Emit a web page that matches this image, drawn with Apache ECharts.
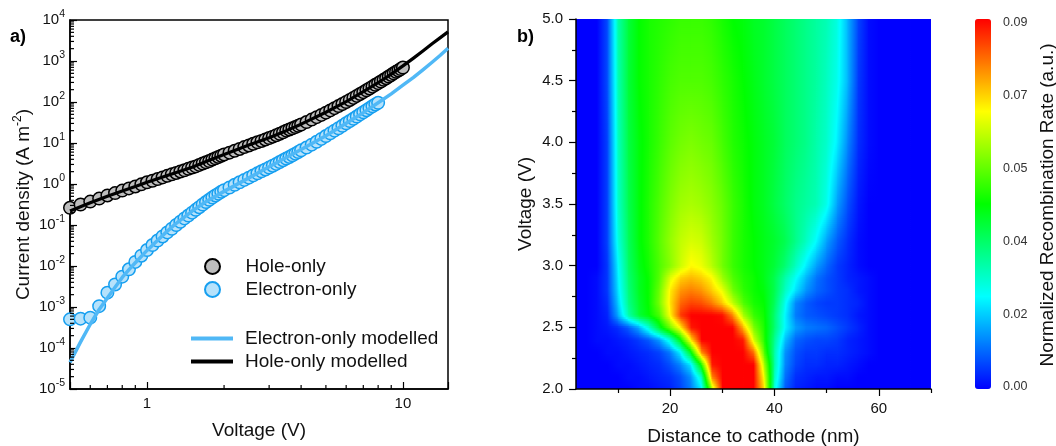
<!DOCTYPE html>
<html><head><meta charset="utf-8">
<script src="https://cdn.jsdelivr.net/npm/echarts@6.0.0/dist/echarts.min.js"></script>
<style>html,body{margin:0;padding:0;background:#fff}#c{width:1056px;height:446px}</style>
</head><body><div id="c"></div>
<script>
// ---------- Panel a) : J-V curves ----------
const holeV = [0.5,0.55,0.6,0.65,0.7,0.75,0.8,0.85,0.9,0.95,1,1.05,1.1,1.15,1.2,1.25,1.3,1.35,1.4,1.45,1.5,1.55,1.6,1.65,1.7,1.75,1.8,1.85,1.9,1.95,2,
  2.1,2.2,2.3,2.4,2.5,2.6,2.7,2.8,2.9,3,3.1,3.2,3.3,3.4,3.5,3.6,3.7,3.8,3.9,4,
  4.2,4.4,4.6,4.8,5,5.2,5.4,5.6,5.8,6,6.2,6.4,6.6,6.8,7,7.2,7.4,7.6,7.8,8,8.2,8.4,8.6,8.8,9,9.2,9.4,9.6,9.8,10];
const holeJ = [0.263,0.316,0.372,0.44,0.525,0.60,0.69,0.78,0.87,0.98,1.10,1.20,1.32,1.45,1.58,1.72,1.86,2.02,2.16,2.34,2.51,2.69,2.92,3.16,3.39,3.63,3.94,4.22,4.57,4.90,5.25,
  5.82,6.46,7.16,7.94,8.71,9.55,10.4,11.2,12.2,13.2,14.3,15.5,16.8,18.2,20.0,21.4,22.9,24.5,26.3,28.2,
  32.4,37.2,42.7,48.4,55.0,62.4,70.8,79.4,89.1,100,112,126,141,157,174,193,214,237,263,288,316,347,380,417,457,501,543,589,638,692];
const elecV = [0.5,0.55,0.6,0.65,0.7,0.75,0.8,0.85,0.9,0.95,1,1.05,1.1,1.15,1.2,1.25,1.3,1.35,1.4,1.45,1.5,1.55,1.6,1.65,1.7,1.75,1.8,1.85,1.9,1.95,2,
  2.1,2.2,2.3,2.4,2.5,2.6,2.7,2.8,2.9,3,3.1,3.2,3.3,3.4,3.5,3.6,3.7,3.8,3.9,4,
  4.2,4.4,4.6,4.8,5,5.2,5.4,5.6,5.8,6,6.2,6.4,6.6,6.8,7,7.2,7.4,7.6,7.8,8];
const elecJ = [5.0e-4,5.2e-4,5.5e-4,1.05e-3,2.24e-3,3.55e-3,5.5e-3,8.3e-3,0.0126,0.0178,0.0245,0.0324,0.0417,0.0525,0.066,0.081,0.100,0.120,0.145,0.170,0.200,0.234,0.272,0.316,0.363,0.412,0.468,0.525,0.582,0.646,0.708,
  0.822,0.955,1.10,1.26,1.43,1.62,1.82,2.04,2.26,2.51,2.79,3.09,3.43,3.80,4.17,4.57,5.01,5.50,6.03,6.61,
  7.76,9.12,10.7,12.6,14.8,17.2,20.0,22.9,26.3,30.2,34.3,38.9,44.2,50.1,56.2,63.1,70.8,78.5,87.1,95.5];
const elecModelV = [0.5,0.55,0.6,0.65,0.7,0.75,0.8,0.85,0.9,1,1.1,1.2,1.3,1.5,1.7,2,2.5,3,3.5,4,5,6,7,8,9,10,11,12,13,14,15];
const elecModelJ = [4.47e-5,1.41e-4,3.8e-4,8.7e-4,1.66e-3,3.02e-3,5.25e-3,8.13e-3,0.012,0.024,0.0427,0.0708,0.11,0.219,0.372,0.661,1.41,2.63,4.42,6.92,15.1,30.2,55.0,95.5,158,257,398,617,933,1380,2040];
const holeModelV = [0.5,0.6,0.7,0.8,0.9,1,1.2,1.5,1.75,2,2.5,3,3.5,4,5,6,7,8,9,10,11,12,13,14,15];
const holeModelJ = [0.219,0.347,0.501,0.676,0.871,1.10,1.62,2.57,3.8,5.25,8.91,13.5,20.0,28.8,56.2,102,178,295,479,759,1175,1778,2630,3715,5130];
const minorMultipliers = [2,3,4,5,6,7,8,9];
const xMinorTicks = [0.6,0.7,0.8,0.9,2,3,4,5,6,7,8,9];
const yDecades = [-5,-4,-3,-2,-1,0,1,2,3];

// ---------- Panel b) : recombination map ----------
const distanceNm = [2,4,6,8,10,12,14,16,18,20,22,24,26,28,30,32,34,36,38,40,42,44,46,48,50,52,54,56,58,60,62,64,66,68,70];
const voltageRows = [2.0,2.1,2.2,2.3,2.4,2.5,2.6,2.7,2.8,2.9,3.0,3.2,3.5,4.0,4.5,5.0];
// rate per row, in units of 1e-3 (a.u.)
const rateRows = [
  [0,0,0,0,0,0,1,1,2,3,6,11,21,60,90,90,90,90,70,25,8,3,2,1,1,0,0,0,0,0,0,0,0,0,0],
  [0,0,0,0,0,1,1,2,3,4,7,13,28,78,90,90,90,90,66,28,10,4,3,2,2,1,1,0,0,0,0,0,0,0,0],
  [0,0,0,0,1,1,2,3,4,7,12,21,48,88,90,90,90,90,60,30,12,6,4,4,3,3,2,1,0,0,0,0,0,0,0],
  [0,0,0,1,1,2,3,4,6,11,22,44,78,90,90,90,90,80,52,30,13,7,5,5,4,4,3,2,1,0,0,0,0,0,0],
  [0,0,1,1,2,3,5,8,14,26,45,70,90,90,90,90,88,64,48,32,17,9,7,6,6,5,3,2,1,0,0,0,0,0,0],
  [0,0,1,2,4,8,15,27,42,55,69,88,90,90,90,90,74,56,47,35,22,14,11,10,9,7,5,3,1,0,0,0,0,0,0],
  [0,0,1,3,15,30,40,45,52,68,85,90,90,90,89,78,60,50,46,35,22,11,8,7,6,5,4,2,1,0,0,0,0,0,0],
  [0,0,1,4,18,33,41,46,56,70,81,84,83,79,72,62,52,47,45,37,24,12,8,6,5,5,4,3,1,0,0,0,0,0,0],
  [0,0,1,5,20,34,42,46,55,69,77,79,77,72,66,55,49,46,44,38,28,20,13,9,7,5,4,2,1,0,0,0,0,0,0],
  [0,0,1,5,21,35,42,46,53,65,72,74,72,68,59,52,48,46,43,38,30,23,16,10,7,5,3,2,1,0,0,0,0,0,0],
  [0,0,0,5,22,36,43,47,52,57,63,68,66,61,55,50,47,45,43,40,35,28,21,14,9,5,3,1,0,0,0,0,0,0,0],
  [0,0,0,6,25,37,44,48,53,58,62,64,63,59,55,50,47,45,43,41,38,33,28,22,14,8,4,1,0,0,0,0,0,0,0],
  [0,0,0,6,27,38,44,48,52,56,59,60,59,57,54,50,47,44,42,39,36,33,31,29,24,14,7,2,0,0,0,0,0,0,0],
  [0,0,0,6,28,39,44,47,50,53,55,56,55,54,51,48,46,44,42,40,37,35,33,30,27,21,12,4,1,0,0,0,0,0,0],
  [0,0,0,7,29,40,45,47,49,51,52,52,52,51,49,47,45,43,41,39,37,35,33,31,28,24,16,5,1,0,0,0,0,0,0],
  [0,0,0,7,30,40,45,47,48,49,50,50,50,49,47,45,44,42,41,39,37,35,33,31,29,25,16,6,1,0,0,0,0,0,0]
];
const rateScale = 1e-3;
const rateMin = 0, rateMax = 0.09;
const colorbarInterval = 0.018;
const distMajorTicks = [20,40,60];
const distMinorTicks = [10,30,50,70];
const mapColors = ['#0000ff','#00ffff','#00ff00','#ffff00','#ff0000'];

// ---------- build ----------
const FONT = '"Liberation Sans", Arial, Helvetica, sans-serif';
const zip = (a, b) => a.map((v, i) => [v, b[i]]);
const yMinorTicks = [];
yDecades.forEach(d => minorMultipliers.forEach(m => yMinorTicks.push(m * Math.pow(10, d))));

const rgbStops = mapColors.map(h => [parseInt(h.slice(1,3),16), parseInt(h.slice(3,5),16), parseInt(h.slice(5,7),16)]);
function cmap(t) {
  t = Math.max(0, Math.min(1, t));
  const n = rgbStops.length - 1;
  const f = t * n; const i = Math.min(n - 1, Math.floor(f)); const u = f - i;
  const c = rgbStops[i].map((c0, k) => Math.round(c0 + (rgbStops[i + 1][k] - c0) * u));
  return 'rgb(' + c[0] + ',' + c[1] + ',' + c[2] + ')';
}
function grad(a, b) {
  const ta = (a - rateMin) / (rateMax - rateMin), tb = (b - rateMin) / (rateMax - rateMin);
  if (Math.abs(tb - ta) < 1e-9) return cmap(ta);
  const stops = [{offset: 0, color: cmap(ta)}, {offset: 1, color: cmap(tb)}];
  const n = rgbStops.length - 1;
  for (let k = 1; k < n; k++) {
    const kt = k / n;
    if ((kt - ta) * (kt - tb) < 0) stops.push({offset: (kt - ta) / (tb - ta), color: cmap(kt)});
  }
  stops.sort((p, q) => p.offset - q.offset);
  return {type: 'linear', x: 0, y: 0, x2: 1, y2: 0, colorStops: stops, global: false};
}
const cells = [];
for (let j = 0; j < voltageRows.length - 1; j++) {
  for (let i = 0; i < distanceNm.length - 1; i++) {
    cells.push([distanceNm[i], voltageRows[j], distanceNm[i + 1], voltageRows[j + 1],
      rateRows[j][i] * rateScale, rateRows[j][i + 1] * rateScale,
      rateRows[j + 1][i] * rateScale, rateRows[j + 1][i + 1] * rateScale]);
  }
}
function renderCell(params, api) {
  const p0 = api.coord([api.value(0), api.value(1)]);
  const p1 = api.coord([api.value(2), api.value(3)]);
  const v00 = api.value(4), v10 = api.value(5), v01 = api.value(6), v11 = api.value(7);
  const left = p0[0], right = p1[0], bottom = p0[1], top = p1[1];
  const H = bottom - top;
  const K = Math.max(2, Math.ceil(H / 2));
  const children = [];
  for (let k = 0; k < K; k++) {
    const t0 = k / K, t1 = (k + 1) / K, tm = (t0 + t1) / 2;
    const a = v00 + (v01 - v00) * tm, b = v10 + (v11 - v10) * tm;
    const yb = bottom - H * t0, yt = bottom - H * t1;
    children.push({type: 'rect', shape: {x: left, y: yt - 0.5, width: right - left + 0.8, height: yb - yt + 1},
      style: {fill: grad(a, b)}});
  }
  return {type: 'group', children};
}
function tickX(params, api) {
  const p = api.coord([api.value(0), api.value(1)]);
  return {type: 'line', shape: {x1: p[0], y1: p[1], x2: p[0], y2: p[1] - 4}, style: {stroke: '#000', lineWidth: 1.2}};
}
function tickY(params, api) {
  const p = api.coord([api.value(0), api.value(1)]);
  return {type: 'line', shape: {x1: p[0], y1: p[1], x2: p[0] + 4, y2: p[1]}, style: {stroke: '#000', lineWidth: 1.2}};
}
const isPow10 = v => { const l = Math.log10(v); return Math.abs(l - Math.round(l)) < 1e-6; };
const TXT = '#111';
const axisLineBlack = {lineStyle: {color: '#000', width: 1.5}};

const chart = echarts.init(document.getElementById('c'), null, {renderer: 'canvas'});
chart.setOption({
  animation: false,
  textStyle: {fontFamily: FONT},
  grid: [
    {left: 70, top: 20, width: 378, height: 369, show: true, borderColor: '#000', borderWidth: 1.5, backgroundColor: 'rgba(0,0,0,0)', containLabel: false, outerBoundsMode: 'none'},
    {left: 576, top: 19, width: 355, height: 370, containLabel: false, outerBoundsMode: 'none'},
    {left: 975, top: 23, width: 16, height: 364, containLabel: false, outerBoundsMode: 'none'}
  ],
  xAxis: [
    {gridIndex: 0, type: 'log', logBase: 10, min: 0.5, max: 15,
      name: 'Voltage (V)', nameLocation: 'middle', nameGap: 32, nameTextStyle: {fontSize: 19, color: TXT, fontFamily: FONT},
      axisLine: axisLineBlack, axisTick: {inside: true, length: 7, lineStyle: {color: '#000', width: 1.2}},
      axisLabel: {fontSize: 15, color: TXT, margin: 7, fontFamily: FONT,
        formatter: v => isPow10(v) ? String(Math.round(v)) : ''},
      splitLine: {show: false}, minorTick: {show: false}, minorSplitLine: {show: false}},
    {gridIndex: 1, type: 'value', min: 2, max: 70, z: 10,
      name: 'Distance to cathode (nm)', nameLocation: 'middle', nameGap: 38, nameTextStyle: {fontSize: 19, color: TXT, fontFamily: FONT},
      axisLine: axisLineBlack, axisTick: {length: 7, customValues: distMajorTicks, lineStyle: {color: '#000', width: 1.2}},
      axisLabel: {customValues: distMajorTicks, fontSize: 15, color: TXT, margin: 12, fontFamily: FONT},
      splitLine: {show: false}},
    {gridIndex: 1, type: 'value', min: 2, max: 70, position: 'bottom', z: 10,
      axisLine: {show: false}, axisLabel: {show: false},
      axisTick: {length: 4, customValues: distMinorTicks, lineStyle: {color: '#000', width: 1.2}},
      splitLine: {show: false}},
    {gridIndex: 2, type: 'value', min: 0, max: 1, show: false}
  ],
  yAxis: [
    {gridIndex: 0, type: 'log', logBase: 10, min: 1e-5, max: 1e4,
      name: 'Current density (A m{s|-2})', nameLocation: 'middle', nameGap: 34,
      nameTextStyle: {fontSize: 19, color: TXT, fontFamily: FONT, rich: {s: {fontSize: 12, fontFamily: FONT, color: TXT, padding: [0, 0, 12, 0]}}},
      axisLine: axisLineBlack, axisTick: {inside: true, length: 7, lineStyle: {color: '#000', width: 1.2}},
      axisLabel: {fontSize: 15, color: TXT, margin: 5, fontFamily: FONT,
        formatter: v => isPow10(v) ? '10{s|' + Math.round(Math.log10(v)) + '}' : '',
        rich: {s: {fontSize: 10.5, fontFamily: FONT, color: TXT, padding: [0, 0, 11, 0]}}},
      splitLine: {show: false}, minorTick: {show: false}, minorSplitLine: {show: false}},
    {gridIndex: 1, type: 'value', min: 2, max: 5, interval: 0.5, z: 10,
      name: 'Voltage (V)', nameLocation: 'middle', nameGap: 41, nameTextStyle: {fontSize: 19, color: TXT, fontFamily: FONT},
      axisLine: axisLineBlack, axisTick: {length: 7, lineStyle: {color: '#000', width: 1.2}},
      minorTick: {show: true, splitNumber: 2, length: 4, lineStyle: {color: '#000', width: 1.2}},
      axisLabel: {fontSize: 15, color: TXT, margin: 13, fontFamily: FONT, formatter: v => v.toFixed(1)},
      splitLine: {show: false}, minorSplitLine: {show: false}},
    {gridIndex: 2, type: 'value', min: rateMin, max: rateMax, interval: colorbarInterval, position: 'right',
      name: 'Normalized Recombination Rate (a.u.)', nameLocation: 'middle', nameGap: 47,
      nameTextStyle: {fontSize: 19, color: TXT, fontFamily: FONT},
      axisLine: {show: false}, axisTick: {show: false},
      axisLabel: {fontSize: 12.5, color: '#333', margin: 12, fontFamily: FONT, formatter: v => v.toFixed(2)},
      splitLine: {show: false}}
  ],
  visualMap: {type: 'continuous', min: rateMin, max: rateMax, seriesIndex: 6, dimension: 4,
    calculable: false, hoverLink: false, orient: 'vertical', left: 975, top: 19, itemWidth: 16, itemHeight: 370,
    padding: 0, inRange: {color: mapColors}, textStyle: {color: 'rgba(0,0,0,0)'}},
  legend: [
    {data: [{name: 'Hole-only', icon: 'circle'}, {name: 'Electron-only', icon: 'circle'}],
      orient: 'vertical', left: 204, top: 257, itemWidth: 42, itemHeight: 15, itemGap: 4, padding: 0,
      selectedMode: false, textStyle: {fontSize: 19, color: TXT, fontFamily: FONT, padding: [0, 0, 0, 7]}},
    {data: [{name: 'Electron-only modelled', icon: 'rect'}, {name: 'Hole-only modelled', icon: 'rect'}],
      orient: 'vertical', left: 191, top: 329, itemWidth: 42, itemHeight: 4, itemGap: 4, padding: 0,
      selectedMode: false, textStyle: {fontSize: 19, color: TXT, fontFamily: FONT, padding: [0, 0, 0, 7]}}
  ],
  graphic: [
    {type: 'text', left: 10, top: 28, style: {text: 'a)', font: 'bold 18px ' + FONT, fill: '#000'}},
    {type: 'text', left: 517, top: 28, style: {text: 'b)', font: 'bold 18px ' + FONT, fill: '#000'}}
  ],
  series: [
    {name: 'Hole-only', type: 'scatter', xAxisIndex: 0, yAxisIndex: 0, data: zip(holeV, holeJ),
      symbol: 'circle', symbolSize: 12.5, itemStyle: {color: '#bdbdbd', borderColor: '#000', borderWidth: 1.5, opacity: 1}, z: 2, silent: true},
    {name: 'Electron-only', type: 'scatter', xAxisIndex: 0, yAxisIndex: 0, data: zip(elecV, elecJ),
      symbol: 'circle', symbolSize: 12.5, itemStyle: {color: '#b6e2fb', borderColor: '#169ff0', borderWidth: 1.5, opacity: 1}, z: 2, silent: true},
    {name: 'Electron-only modelled', type: 'line', xAxisIndex: 0, yAxisIndex: 0, data: zip(elecModelV, elecModelJ),
      symbol: 'none', showSymbol: false, smooth: false,
      lineStyle: {color: '#50b8f6', width: 3.5, join: 'round'}, itemStyle: {color: '#50b8f6'}, z: 3, silent: true},
    {name: 'Hole-only modelled', type: 'line', xAxisIndex: 0, yAxisIndex: 0, data: zip(holeModelV, holeModelJ),
      symbol: 'none', showSymbol: false, smooth: false,
      lineStyle: {color: '#000', width: 3.2, join: 'round'}, itemStyle: {color: '#000'}, z: 3, silent: true},
    {type: 'custom', xAxisIndex: 0, yAxisIndex: 0, renderItem: tickX, silent: true, z: 4,
      data: xMinorTicks.map(v => [v, 1e-5])},
    {type: 'custom', xAxisIndex: 0, yAxisIndex: 0, renderItem: tickY, silent: true, z: 4,
      data: yMinorTicks.map(v => [0.5, v])},
    {type: 'custom', xAxisIndex: 1, yAxisIndex: 1, renderItem: renderCell, silent: true, clip: true, z: 1,
      encode: {x: [0, 2], y: [1, 3]}, data: cells}
  ]
});
</script>
</body></html>
